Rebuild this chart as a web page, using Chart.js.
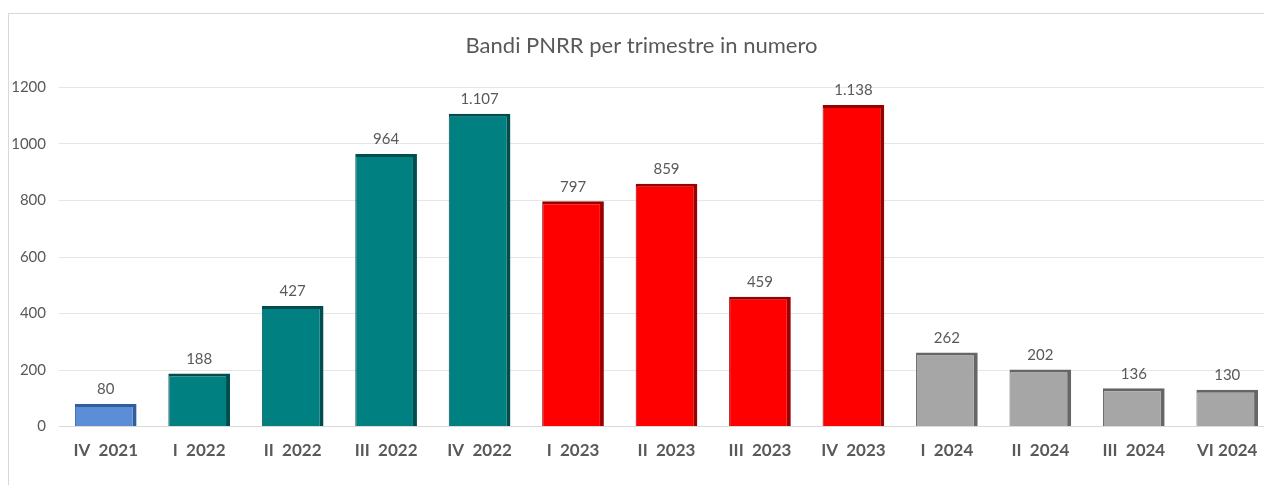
<!DOCTYPE html>
<html>
<head>
<meta charset="utf-8">
<script src="https://cdn.jsdelivr.net/npm/chart.js@4.4.1/dist/chart.umd.min.js"></script>
<style>
  html, body { margin: 0; padding: 0; background: #fff; overflow: hidden; }
  #box {
    position: absolute; left: 8px; top: 13px;
    width: 1290px; height: 480px;
    border: 1px solid #d9d9d9; box-sizing: border-box;
  }
</style>
</head>
<body>
<div id="box"><canvas id="myChart"></canvas></div>
<script>
var labels = ['IV  2021', 'I  2022', 'II  2022', 'III  2022', 'IV  2022', 'I  2023', 'II  2023',
              'III  2023', 'IV  2023', 'I  2024', 'II  2024', 'III  2024', 'VI 2024'];
var bandi = [80, 188, 427, 964, 1107, 797, 859, 459, 1138, 262, 202, 136, 130];
var fillColors = ['#5b8ed6', '#008080', '#008080', '#008080', '#008080', '#ff0000', '#ff0000',
                  '#ff0000', '#ff0000', '#a6a6a6', '#a6a6a6', '#a6a6a6', '#a6a6a6'];
var edgeColors = ['#2f5f9e', '#004d4d', '#004d4d', '#004d4d', '#004d4d', '#990000', '#990000',
                  '#990000', '#990000', '#666666', '#666666', '#666666', '#666666'];
var yTicks = [0, 200, 400, 600, 800, 1000, 1200];

// numero con punto delle migliaia
function fmt(v) {
    return v.toString().replace(/\B(?=(\d{3})+(?!\d))/g, '.');
}

var valueLabels = {
    id: 'valueLabels',
    afterDatasetsDraw: function(chart) {
        var ctx = chart.ctx;
        var meta = chart.getDatasetMeta(0);
        ctx.save();
        ctx.font = '15px Lato, "Open Sans", sans-serif';
        ctx.fillStyle = '#595959';
        ctx.textAlign = 'center';
        ctx.textBaseline = 'bottom';
        meta.data.forEach(function(bar, i) {
            ctx.fillText(fmt(bandi[i]), bar.x, bar.y - 7);
        });
        ctx.restore();
    }
};

var ctx = document.getElementById('myChart').getContext('2d');
var myChart = new Chart(ctx, {
    type: 'bar',
    data: {
        labels: labels,
        datasets: [{
            data: bandi,
            backgroundColor: fillColors,
            borderColor: edgeColors,
            borderWidth: { top: 3, right: 4, left: 1, bottom: 0 },
            borderSkipped: 'bottom',
            barPercentage: 0.66,
            categoryPercentage: 1
        }]
    },
    options: {
        responsive: true,
        maintainAspectRatio: false,
        animation: false,
        layout: { padding: { left: 0, right: 23, top: 0, bottom: 25 } },
        plugins: {
            legend: { display: false },
            tooltip: { enabled: false },
            title: {
                display: true,
                text: 'Bandi PNRR per trimestre in numero',
                color: '#595959',
                font: { family: 'Lato, "Open Sans", sans-serif', size: 22, weight: 'normal' },
                padding: { top: 19, bottom: 28 }
            }
        },
        scales: {
            x: {
                grid: { display: false },
                border: { color: '#d9d9d9' },
                ticks: {
                    color: '#595959',
                    font: { family: 'Lato, "Open Sans", sans-serif', size: 17, weight: 'bold' },
                    padding: 6,
                    maxRotation: 0
                }
            },
            y: {
                min: 0,
                max: 1200,
                afterFit: function(scale) { scale.width = 50; },
                afterBuildTicks: function(scale) {
                    scale.ticks = yTicks.map(function(v) { return { value: v }; });
                },
                grid: { color: '#e6e6e6', drawTicks: false },
                border: { display: false },
                ticks: {
                    color: '#595959',
                    font: { family: 'Lato, "Open Sans", sans-serif', size: 15 },
                    padding: 13,
                    callback: function(v) { return String(v); }
                }
            }
        }
    },
    plugins: [valueLabels]
});
</script>
</body>
</html>
